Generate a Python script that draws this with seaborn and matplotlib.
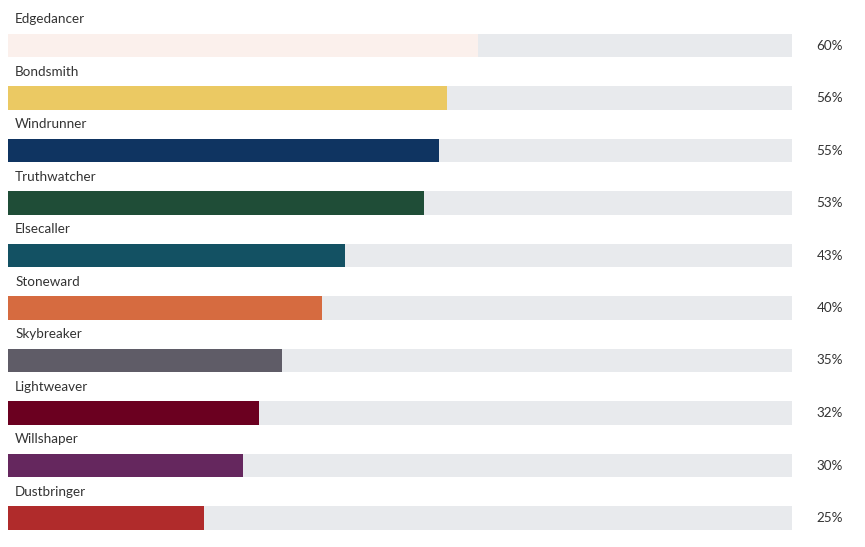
import matplotlib
matplotlib.use("Agg")
import matplotlib.pyplot as plt
import seaborn as sns
import pandas as pd

# data
orders = ['Edgedancer', 'Bondsmith', 'Windrunner', 'Truthwatcher', 'Elsecaller',
          'Stoneward', 'Skybreaker', 'Lightweaver', 'Willshaper', 'Dustbringer']
percent = [60, 56, 55, 53, 43, 40, 35, 32, 30, 25]
colors = ['#fbf0ec', '#ebc963', '#0f3461', '#1f4d37', '#135163',
          '#d66b40', '#5f5c67', '#6b0020', '#65275e', '#b02b2b']

df = pd.DataFrame({'order': orders, 'percent': percent, 'track': 100})

sns.set_style("white")
plt.rcParams['font.family'] = ['Lato', 'DejaVu Sans']

fig = plt.figure(figsize=(8.65, 5.47), dpi=100)
ax = fig.add_axes([8 / 865, 0, 784 / 865, 1])

# grey background track
sns.barplot(data=df, x='track', y='order', color='#e8eaed', width=0.44,
            orient='h', ax=ax, saturation=1, linewidth=0)
# coloured bars
sns.barplot(data=df, x='percent', y='order', hue='order',
            palette=dict(zip(orders, colors)), width=0.44, orient='h',
            ax=ax, saturation=1, legend=False, linewidth=0)

for i, (name, val) in enumerate(zip(orders, percent)):
    ax.text(0.9, i - 0.5, name, ha='left', va='center', fontsize=9.7, color='#333333')
    ax.text(103.1, i, f"{val}%", ha='left', va='center', fontsize=9.7, color='#333333')

ax.set_xlim(0, 100)
ax.set_ylim(9 + 29 / 52.5, -45.5 / 52.5)
ax.set_xlabel('')
ax.set_ylabel('')
ax.set_xticks([])
ax.set_yticks([])
sns.despine(ax=ax, left=True, bottom=True)
ax.patch.set_visible(False)

fig.savefig("out.png", dpi=100)
